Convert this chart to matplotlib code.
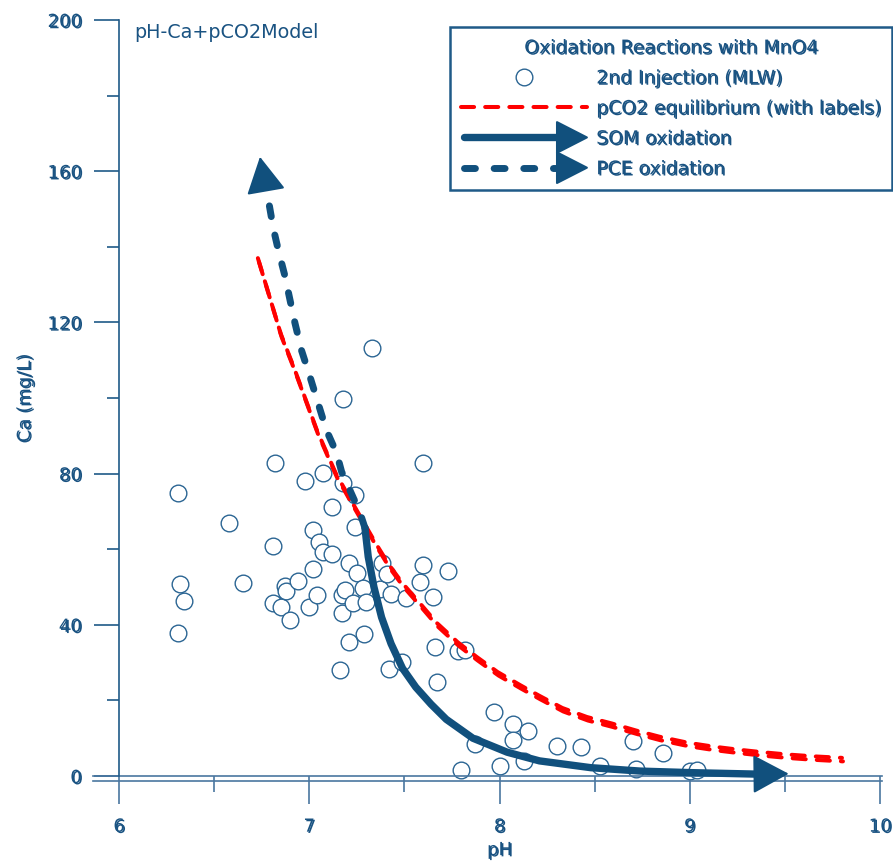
import numpy as np
import matplotlib
matplotlib.use('Agg')
import matplotlib.pyplot as plt
import matplotlib.patheffects as pe
from matplotlib.lines import Line2D
from matplotlib.patches import Polygon
from matplotlib.legend_handler import HandlerBase
from matplotlib.transforms import offset_copy

# 2nd injection samples (MLW)
ph_pts = [6.31, 6.32, 6.34, 6.31, 6.58, 6.65, 6.82, 6.81, 6.81, 6.85, 6.87, 6.88, 6.90, 6.94,
          6.98, 7.00, 7.02, 7.02, 7.05, 7.04, 7.07, 7.07, 7.12, 7.12, 7.16, 7.17, 7.17, 7.18,
          7.18, 7.19, 7.21, 7.21, 7.23, 7.24, 7.24, 7.25, 7.28, 7.29, 7.30, 7.33, 7.37, 7.38,
          7.41, 7.42, 7.43, 7.49, 7.51, 7.58, 7.60, 7.60, 7.65, 7.66, 7.67, 7.73, 7.78, 7.82,
          7.80, 7.87, 7.97, 8.00, 8.07, 8.07, 8.15, 8.13, 8.30, 8.43, 8.53, 8.70, 8.72, 8.86,
          9.00, 9.04]
ca_pts = [74.9, 50.8, 46.3, 37.8, 66.9, 51.1, 82.8, 60.8, 45.8, 44.7, 50.3, 48.9, 41.3, 51.6,
          78.0, 44.7, 54.8, 65.1, 61.9, 47.9, 80.2, 59.3, 58.7, 71.2, 28.0, 43.1, 47.9, 99.7,
          77.5, 49.2, 56.3, 35.4, 45.8, 74.3, 65.9, 53.7, 49.7, 37.6, 46.0, 113.2, 49.5, 56.3,
          53.4, 28.3, 48.1, 30.2, 47.1, 51.3, 55.8, 82.8, 47.4, 34.1, 24.9, 54.2, 33.1, 33.3,
          1.6, 8.5, 16.9, 2.6, 13.8, 9.5, 11.9, 4.0, 7.9, 7.7, 2.6, 9.3, 1.9, 6.1,
          1.3, 1.6]

# pCO2 equilibrium curve
ph_eq = [6.73, 6.85, 6.92, 7.04, 7.14, 7.23, 7.35, 7.42, 7.49, 7.58, 7.67, 7.78, 7.88, 7.99,
         8.11, 8.21, 8.33, 8.46, 8.59, 8.72, 8.84, 8.99, 9.12, 9.25, 9.38, 9.51, 9.65, 9.80]
ca_eq = [137, 117, 108, 91.5, 80, 72, 61.5, 55.8, 51, 45.8, 40.5, 35.4, 31.5, 27.5,
         24, 21.2, 18, 15.6, 13.9, 12.0, 10.4, 8.8, 7.8, 7.0, 6.3, 5.7, 5.2, 4.8]

# SOM oxidation path (last point = arrow tip)
ph_som = [7.293, 7.31, 7.34, 7.38, 7.43, 7.49, 7.56, 7.64, 7.72, 7.86, 8.04, 8.21, 8.48,
          8.74, 9.00, 9.35, 9.52]
ca_som = [65.6, 58, 50, 42, 35, 28.5, 23.5, 19, 15, 10, 6.3, 4.0, 2.2,
          1.3, 0.9, 0.5, 0.6]

# PCE oxidation path (last point = arrow tip)
ph_pce = [7.293, 7.267, 7.22, 7.17, 7.144, 7.09, 7.046, 7.004, 6.96, 6.925, 6.899, 6.873,
          6.837, 6.811, 6.79, 6.767, 6.741]
ca_pce = [65.6, 69.6, 74.9, 80.5, 85.4, 91.5, 98.7, 105.6, 112.5, 119.8, 125.9, 132.1,
          139.2, 144.9, 151, 156.3, 163.8]

x_major = [6, 7, 8, 9, 10]
x_minor = [6.5, 7.5, 8.5, 9.5]
y_major = [0, 40, 80, 120, 160, 200]
y_minor = [20, 60, 100, 140, 180]

TXT = '#1a5382'
ARR = '#11507d'
MK = '#2b6593'
AXC = '#4a77a0'
SPN = '#1f5a88'

DBL = [pe.PathPatchEffect(offset=(1.0, -0.9), facecolor=TXT, edgecolor='none'), pe.Normal()]


class ArrowHandler(HandlerBase):
    def create_artists(self, legend, orig_handle, xdescent, ydescent,
                       width, height, fontsize, trans):
        y = height / 2 - ydescent
        x0 = -xdescent
        x1 = x0 + width
        hl, hw = 21.5, 11
        ln = Line2D([x0 + 2, x1 - hl], [y, y])
        ln.update_from(orig_handle)
        ln.set_transform(trans)
        tri = Polygon([[x1 - hl, y - hw], [x1, y], [x1 - hl, y + hw]], closed=True,
                      facecolor=ARR, edgecolor=ARR, lw=1.5, joinstyle='round',
                      transform=trans)
        return [ln, tri]


fig = plt.figure(figsize=(8.93, 8.61), dpi=100)
ax = fig.add_axes([119 / 893, 85 / 861, 761 / 893, 756 / 861])
ax.set_xlim(6, 10)
ax.set_ylim(0, 200)

ax.scatter(ph_pts, ca_pts, s=12 ** 2, facecolor='white', edgecolor=MK, linewidth=1.0,
           zorder=2, clip_on=False)

red_style = dict(color='red', lw=2.9, ls=(0, (3.25, 2.75)), dash_capstyle='round',
                 zorder=3, clip_on=False)
ax.plot(ph_eq, ca_eq, **red_style)
ax.plot(ph_eq, ca_eq, transform=offset_copy(ax.transData, fig=fig, x=1, y=-3.5, units='dots'),
        **red_style)

ax.plot(ph_pce[:-1], ca_pce[:-1], color=ARR, lw=5, ls=(0, (1.57, 2.7)),
        dash_capstyle='round', zorder=4, clip_on=False)
ax.plot(ph_som[:-1], ca_som[:-1], color=ARR, lw=5.3, solid_capstyle='round',
        solid_joinstyle='round', zorder=5, clip_on=False)

head = dict(arrowstyle='-|>,head_length=1.0,head_width=0.54', mutation_scale=23,
            color=ARR, lw=1.5, shrinkA=0, shrinkB=0, joinstyle='round')
for px, cy in [(ph_som, ca_som), (ph_pce, ca_pce)]:
    ax.annotate('', xy=(px[-1], cy[-1]), xytext=(px[-2], cy[-2]), arrowprops=head,
                annotation_clip=False, zorder=6)

# axes styling
for s in ['top', 'right', 'bottom']:
    ax.spines[s].set_visible(False)
ax.spines['left'].set_color(SPN)
ax.spines['left'].set_linewidth(1.2)
ax.plot([-0.034, 1.003], [0, 0], transform=ax.transAxes, color=AXC, lw=1.2, clip_on=False)
ax.plot([-0.034, 1.003], [0, 0], transform=offset_copy(ax.transAxes, fig=fig, y=-5, units='dots'),
        color=AXC, lw=1.2, clip_on=False)

ax.set_xticks(x_major)
ax.set_xticks(x_minor, minor=True)
ax.set_yticks(y_major)
ax.set_yticks(y_minor, minor=True)
ax.tick_params(axis='x', which='major', length=20, width=1.2, color=AXC, pad=10,
               labelsize=13, labelcolor=TXT)
ax.tick_params(axis='x', which='minor', length=11.5, width=1.2, color=AXC)
ax.tick_params(axis='y', which='major', length=18, width=1.2, color=SPN, pad=9,
               labelsize=13, labelcolor=TXT)
ax.tick_params(axis='y', which='minor', length=8.6, width=1.2, color=SPN)
plt.setp(ax.get_xticklabels() + ax.get_yticklabels(), path_effects=DBL)

ax.set_xlabel('pH', fontsize=13, color=TXT, path_effects=DBL)
ax.set_ylabel('Ca (mg/L)', fontsize=13, color=TXT, path_effects=DBL)
ax.xaxis.label.set_va('center')
ax.yaxis.label.set_va('center')
ax.xaxis.set_label_coords(0.5, -0.098)
ax.yaxis.set_label_coords(-0.1235, 0.5)

ax.text(0.0197, 0.983, 'pH-Ca+pCO2Model', transform=ax.transAxes, fontsize=13.8,
        color=TXT, va='center', ha='left')

# legend
h_pts = Line2D([], [], ls='none', marker='o', ms=12, mfc='white', mec=MK, mew=1.0)
h_red = Line2D([], [], color='red', lw=2.9, ls=(0, (3.25, 2.75)), dash_capstyle='round')
h_som = Line2D([], [], color=ARR, lw=5.3, ls='-', solid_capstyle='round')
h_pce = Line2D([], [], color=ARR, lw=5, ls=(0, (1.57, 2.7)), dash_capstyle='round')
leg = ax.legend([h_pts, h_red, h_som, h_pce],
                ['2nd Injection (MLW)', 'pCO2 equilibrium (with labels)', 'SOM oxidation',
                 'PCE oxidation'],
                handler_map={h_som: ArrowHandler(), h_pce: ArrowHandler()},
                title='Oxidation Reactions with MnO4', title_fontsize=13.5, fontsize=13.5,
                loc='upper right', bbox_to_anchor=(892 / 893, 1 - 27 / 861),
                bbox_transform=fig.transFigure, borderaxespad=0, borderpad=0.6,
                handlelength=6.7, handletextpad=0.5, labelspacing=0.6,
                fancybox=False, framealpha=1, edgecolor=SPN)
leg.get_frame().set_linewidth(1.8)
for t in leg.get_texts():
    t.set_color(TXT)
    t.set_path_effects(DBL)
leg.get_title().set_color(TXT)
leg.get_title().set_path_effects(DBL)
leg.set_zorder(10)

fig.savefig('out.png', dpi=100)
